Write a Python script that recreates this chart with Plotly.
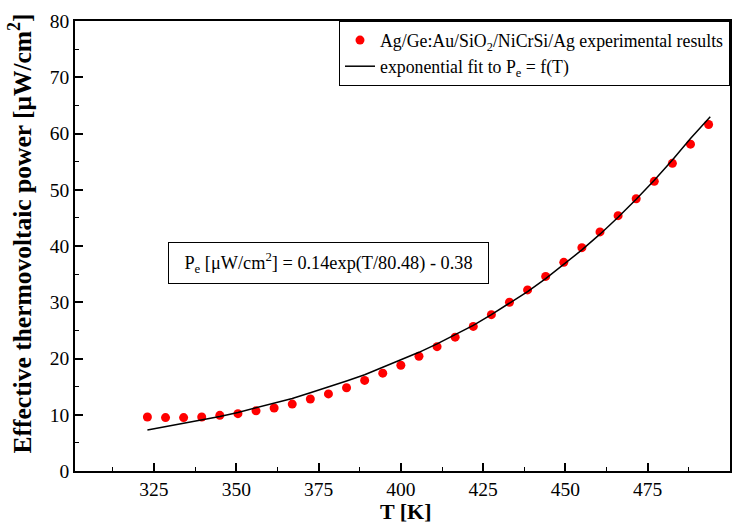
import plotly.graph_objects as go

# Experimental data
T_exp = [323.0, 328.5, 334.0, 339.5, 345.0, 350.5, 356.0, 361.5, 367.0, 372.5, 378.0,
         383.5, 389.0, 394.5, 400.0, 405.5, 411.0, 416.5, 422.0, 427.5, 433.0, 438.5,
         444.0, 449.5, 455.0, 460.5, 466.0, 471.5, 477.0, 482.5, 488.0, 493.5]
P_exp = [9.6, 9.5, 9.5, 9.6, 9.9, 10.2, 10.7, 11.2, 11.9, 12.8, 13.7,
         14.8, 16.1, 17.4, 18.8, 20.4, 22.1, 23.8, 25.7, 27.8, 30.0, 32.2,
         34.6, 37.1, 39.7, 42.5, 45.4, 48.4, 51.5, 54.7, 58.1, 61.6]

# Fit curve
T_fit = [323.0, 328.5, 334.0, 339.5, 345.0, 350.5, 356.0, 361.5, 367.0, 372.5, 378.0,
         383.5, 389.0, 394.5, 400.0, 405.5, 411.0, 416.5, 422.0, 427.5, 433.0, 438.5,
         444.0, 449.5, 455.0, 460.5, 466.0, 471.5, 477.0, 482.5, 488.0, 494.0]
P_fit = [7.3, 7.9, 8.4, 9.1, 9.7, 10.4, 11.2, 12.0, 12.9, 13.9, 14.9,
         16.0, 17.1, 18.4, 19.7, 21.1, 22.6, 24.2, 25.9, 27.8, 29.8, 31.9,
         34.2, 36.7, 39.3, 42.1, 45.1, 48.3, 51.7, 55.3, 59.1, 63.0]

x_ticks = [325, 350, 375, 400, 425, 450, 475, 500]
y_ticks = [0, 10, 20, 30, 40, 50, 60, 70, 80]

FONT = "Liberation Serif"

fig = go.Figure()
fig.add_trace(go.Scatter(
    x=T_exp, y=P_exp, mode="markers",
    marker=dict(color="#ff0000", size=9, line=dict(width=0)),
    name="Ag/Ge:Au/SiO<sub>2</sub>/NiCrSi/Ag experimental results"))
fig.add_trace(go.Scatter(
    x=T_fit, y=P_fit, mode="lines",
    line=dict(color="black", width=1.5),
    name="exponential fit to P<sub>e</sub> = f(T)"))

axis_common = dict(
    showline=True, linecolor="black", linewidth=1.5, mirror=True,
    ticks="inside", ticklen=8, tickwidth=1.5, tickcolor="black",
    showgrid=False, zeroline=False,
    tickfont=dict(family=FONT, size=19.5, color="black"),
)

fig.update_xaxes(range=[301, 500], tickvals=x_ticks,
                 minor=dict(dtick=12.5, tick0=300, ticks="inside", ticklen=4,
                            tickwidth=1.2, tickcolor="black"),
                 **axis_common)
fig.update_yaxes(range=[0, 80], tickvals=y_ticks,
                 minor=dict(dtick=5, ticks="inside", ticklen=4,
                            tickwidth=1.2, tickcolor="black"),
                 **axis_common)

fig.add_annotation(
    text="P<sub>e</sub> [μW/cm<sup>2</sup>] = 0.14exp(T/80.48) - 0.38",
    x=378.1, y=36.9, xref="x", yref="y", showarrow=False,
    width=305, align="center",
    font=dict(family=FONT, size=18.3, color="black"),
    bordercolor="black", borderwidth=1, borderpad=7, bgcolor="white")

fig.add_annotation(
    text="<b>Effective thermovoltaic power [μW/cm<sup>2</sup>]</b>",
    x=0, y=0.5, xref="paper", yref="paper", xanchor="center", yanchor="middle",
    xshift=-54.5, yshift=12, textangle=-90, showarrow=False,
    font=dict(family=FONT, size=25.5, color="black"))

fig.add_annotation(
    text="<b>T [K]</b>",
    x=0.5, y=0, xref="paper", yref="paper", xanchor="center", yanchor="middle",
    yshift=-40, xshift=3, showarrow=False,
    font=dict(family=FONT, size=22, color="black"))

fig.update_layout(
    width=743, height=525,
    margin=dict(l=75, r=11, t=17, b=54),
    plot_bgcolor="white", paper_bgcolor="white",
    showlegend=True,
    legend=dict(x=1, y=1, xanchor="right", yanchor="top",
                bordercolor="black", borderwidth=1, bgcolor="white",
                font=dict(family=FONT, size=17.8, color="black"),
                tracegroupgap=0, itemwidth=30),
)

fig.write_html("out.html", config={"displayModeBar": False},
               post_script="document.body.style.margin='0';document.body.style.overflow='hidden';")
